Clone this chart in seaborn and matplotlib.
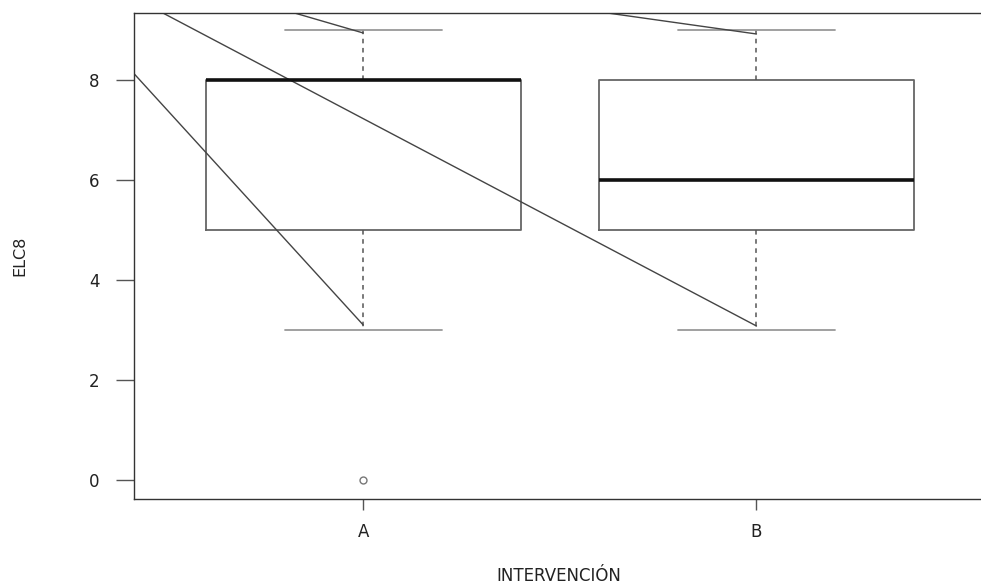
import numpy as np
import pandas as pd
import seaborn as sns
import matplotlib.pyplot as plt

# ELC8 scores per intervention group
elc8_a = [0, 3, 5, 5, 8, 8, 8, 8, 9]
elc8_b = [3, 5, 5, 6, 8, 8, 9]
groups = ["A", "B"]

# stray segments: all start from one point above the top-left corner
stray_start = (-0.922, 11.05)
stray_end_x = [0, 1, 0, 1]
stray_end_y = [3.1, 3.08, 8.94, 8.92]

df = pd.DataFrame({
    "INTERVENCIÓN": ["A"] * len(elc8_a) + ["B"] * len(elc8_b),
    "ELC8": elc8_a + elc8_b,
})

sns.set_theme(style="white")
plt.rcParams["font.family"] = ["DejaVu Sans"]

fig = plt.figure(figsize=(9.81, 5.85), dpi=100)
ax = fig.add_axes([0.1366, 0.147, 0.867, 0.8308])

sns.boxplot(
    data=df, x="INTERVENCIÓN", y="ELC8", order=groups,
    fill=False, width=0.8, whis=1.5,
    boxprops={"color": "#666666", "linewidth": 1.3},
    medianprops={"color": "#111111", "linewidth": 2.6},
    whiskerprops={"color": "#555555", "linewidth": 1.1, "linestyle": (0, (3, 3))},
    capprops={"color": "#999999", "linewidth": 1.3},
    flierprops={"marker": "o", "markersize": 5, "markerfacecolor": "none",
                "markeredgecolor": "#777777", "markeredgewidth": 1.0},
    ax=ax,
)

for ex, ey in zip(stray_end_x, stray_end_y):
    ax.plot([stray_start[0], ex], [stray_start[1], ey], color="#444444", linewidth=1.0)

ax.set_xlim(-0.583, 1.58)
ax.set_ylim(-0.38, 9.34)
ax.set_yticks([0, 2, 4, 6, 8])

for side in ["top", "left", "bottom", "right"]:
    ax.spines[side].set_visible(True)
    ax.spines[side].set_color("#333333")
    ax.spines[side].set_linewidth(1.0)

ax.tick_params(axis="y", direction="out", length=13, width=1, color="#555555",
               pad=12, labelsize=12, labelcolor="#222222", left=True)
ax.tick_params(axis="x", direction="out", length=8, width=1, color="#555555",
               pad=9, labelsize=12, labelcolor="#222222", bottom=True)

ax.set_xlabel("INTERVENCIÓN", fontsize=12, color="#222222", labelpad=19)
ax.set_ylabel("ELC8", fontsize=11.5, color="#222222", labelpad=44)

fig.savefig("out.png", dpi=100)
